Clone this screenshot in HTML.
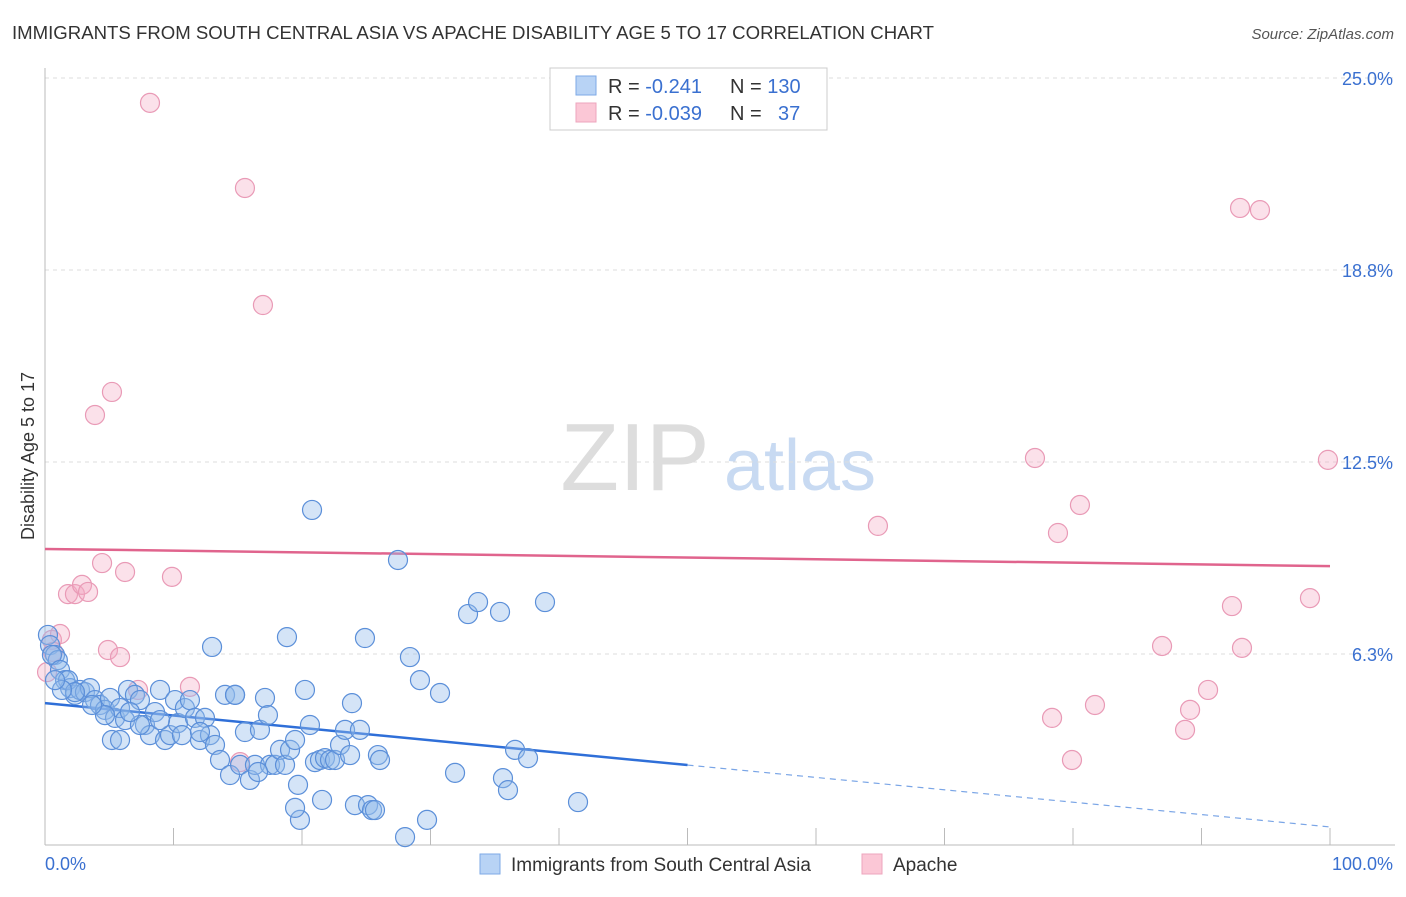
<!DOCTYPE html>
<html><head><meta charset="utf-8"><style>
body{margin:0;background:#fff;font-family:"Liberation Sans",sans-serif;}
svg text{font-family:"Liberation Sans",sans-serif;}
</style></head><body>
<svg id="chart" width="1406" height="892">
<text x="12" y="39" font-size="18.6" fill="#333">IMMIGRANTS FROM SOUTH CENTRAL ASIA VS APACHE DISABILITY AGE 5 TO 17 CORRELATION CHART</text>
<text x="1394" y="39" font-size="15" fill="#555" text-anchor="end" font-style="italic">Source: ZipAtlas.com</text>
<text x="34" y="456" font-size="18" fill="#333" text-anchor="middle" transform="rotate(-90 34 456)">Disability Age 5 to 17</text>
<g><text x="635" y="490" font-size="96" fill="#ddd" text-anchor="middle" font-family="Liberation Serif">ZIP</text><text x="800" y="490" font-size="72" fill="#c8daf2" text-anchor="middle">atlas</text></g>
<g id="grid"></g><g id="axes"></g><g id="trend"></g><g id="pts"></g>
<g>
<rect x="550" y="68" width="277" height="62" fill="#fff" stroke="#ccc"/>
<rect x="576" y="76" width="20" height="19" fill="#b8d3f5" stroke="#7eaae6"/>
<rect x="576" y="103" width="20" height="19" fill="#fbc7d6" stroke="#eea5bd"/>
<text x="608" y="93" font-size="20" fill="#333">R = <tspan fill="#3a70d0"> -0.241</tspan><tspan x="730">N = </tspan><tspan fill="#3a70d0">130</tspan></text>
<text x="608" y="120" font-size="20" fill="#333">R = <tspan fill="#3a70d0">-0.039</tspan><tspan x="730">N = </tspan><tspan fill="#3a70d0" x="778">37</tspan></text>
</g>
<g>
<rect x="480" y="854" width="20" height="20" fill="#b8d3f5" stroke="#7eaae6"/>
<text x="511" y="871" font-size="19" fill="#333">Immigrants from South Central Asia</text>
<rect x="862" y="854" width="20" height="20" fill="#fbc7d6" stroke="#eea5bd"/>
<text x="893" y="871" font-size="19" fill="#333">Apache</text>
</g>
</svg>
<script>
const yTicks=[25,18.8,12.5,6.3];
const yTickVals=[25,18.75,12.5,6.25];
const xTickLabels=["0.0%","100.0%"];
const blueX=[0.23,0.39,0.78,1.0,0.54,1.17,1.56,1.95,2.33,1.79,2.72,3.11,3.5,3.89,4.28,4.67,5.06,5.45,5.21,5.84,6.23,6.46,7.0,7.39,7.78,8.17,8.56,8.95,9.34,9.73,10.12,10.35,10.66,10.89,11.28,11.67,12.06,12.45,12.84,13.23,13.62,14.01,14.4,14.79,15.18,15.56,15.95,16.34,16.73,17.12,17.35,17.51,17.9,18.29,18.68,19.07,19.46,19.69,19.84,20.23,20.62,21.01,21.4,21.56,21.79,22.18,22.57,22.96,23.35,23.74,23.89,24.12,24.51,24.9,25.14,25.45,25.68,25.91,26.07,27.47,28.02,28.4,29.18,29.73,30.74,31.91,32.92,33.7,35.41,35.64,36.03,36.58,37.59,38.91,41.48,20.78,18.83,13.0,19.46,16.58,12.06,14.79,8.95,7.39,5.84,6.61,4.67,3.66,2.33,1.32,0.78];
const blueY=[6.87,6.54,6.22,6.05,6.22,5.73,5.40,5.14,4.92,5.40,5.08,5.01,5.14,4.75,4.59,4.43,4.82,4.17,3.45,4.49,4.10,5.08,4.92,4.75,3.94,3.61,4.36,5.08,3.45,3.61,4.75,4.00,3.61,4.49,4.75,4.17,3.45,4.17,3.61,3.29,2.80,4.92,2.31,4.92,2.64,3.71,2.15,2.64,3.78,4.82,4.26,2.64,2.64,3.13,2.64,3.13,3.45,1.99,0.85,5.08,3.94,2.73,2.80,1.50,2.86,2.80,2.80,3.29,3.78,2.96,4.65,1.33,3.78,6.77,1.33,1.17,1.17,2.96,2.80,9.31,0.29,6.15,5.40,0.85,4.98,2.38,7.55,7.94,7.62,2.21,1.82,3.13,2.86,7.94,1.43,10.94,6.80,6.48,1.24,2.41,3.71,4.92,4.10,3.94,3.45,4.36,4.26,4.59,5.01,5.08,5.40];
const pinkX=[0.54,0.62,1.17,0.16,1.79,2.33,2.88,3.35,3.89,4.44,4.9,5.21,5.84,6.23,7.24,8.17,9.88,11.28,15.18,15.56,16.96,64.82,77.04,78.83,80.54,78.37,79.92,81.71,86.93,88.72,89.11,90.51,92.37,93.0,94.55,93.15,98.44,99.84];
const pinkY=[6.71,6.32,6.90,5.66,8.20,8.20,8.50,8.27,14.03,9.21,6.38,14.78,6.15,8.92,5.08,24.19,8.76,5.18,2.73,21.42,17.61,10.42,12.63,10.19,11.10,4.17,2.80,4.59,6.51,3.78,4.43,5.08,7.81,20.77,20.70,6.45,8.07,12.57];
const blueTrend=[4.65,0.62];
const pinkTrend=[9.67,9.11];
const NS="http://www.w3.org/2000/svg";
const X0=45,X1=1330,Y0=846,PXPER=30.72;
const sx=v=>X0+(X1-X0)*v/100, sy=v=>Y0-v*PXPER;
function mk(t,a,p){const e=document.createElementNS(NS,t);for(const k in a)e.setAttribute(k,a[k]);p.appendChild(e);return e;}
const grid=document.getElementById('grid'),axes=document.getElementById('axes'),trend=document.getElementById('trend'),pts=document.getElementById('pts');
yTickVals.forEach((v,i)=>{
 const l=mk('line',{x1:X0,x2:1395,y1:sy(v),y2:sy(v),stroke:'#ddd','stroke-dasharray':'4 4'},grid);
 
 
 const t=mk('text',{x:1393,y:sy(v)+7,'font-size':18,fill:'#3a70d0','text-anchor':'end'},grid);
 t.textContent=yTicks[i].toFixed(1)+'%';
 
 
});
const ax=mk('line',{x1:X0,x2:X0,y1:68,y2:845,stroke:'#bbb'},axes);


const bx=mk('line',{x1:X0,x2:1395,y1:845,y2:845,stroke:'#bbb'},axes);


for(let i=0;i<=10;i++){const tk=mk('line',{x1:sx(i*10),x2:sx(i*10),y1:828,y2:845,stroke:'#bbb'},axes);
 
 }
const xl0=mk('text',{x:45,y:870,'font-size':18,fill:'#3a70d0'},axes);xl0.textContent=xTickLabels[0];


const xl1=mk('text',{x:1393,y:870,'font-size':18,fill:'#3a70d0','text-anchor':'end'},axes);xl1.textContent=xTickLabels[1];


function drawPts(xs,ys,fill,stroke,name){xs.forEach((x,i)=>{const c=mk('circle',{cx:sx(x),cy:sy(ys[i]),r:9.5,fill:fill,stroke:stroke,'stroke-width':1.2},pts);
 
 });}
drawPts(pinkX,pinkY,'rgba(244,170,195,0.35)','#e99ab6','apache-point');
drawPts(blueX,blueY,'rgba(147,187,236,0.4)','#5b8fd9','south-central-asia-point');
const bm=blueTrend[0]+(blueTrend[1]-blueTrend[0])*0.5;
const b1=mk('line',{x1:sx(0),y1:sy(blueTrend[0]),x2:sx(50),y2:sy(bm),stroke:'#2f6fd8','stroke-width':2.5},trend);


const b2=mk('line',{x1:sx(50),y1:sy(bm),x2:sx(100),y2:sy(blueTrend[1]),stroke:'#7aa5e6','stroke-width':1.2,'stroke-dasharray':'6 5'},trend);


const p1=mk('line',{x1:sx(0),y1:sy(pinkTrend[0]),x2:sx(100),y2:sy(pinkTrend[1]),stroke:'#e0648d','stroke-width':2.5},trend);


</script>
</body></html>
